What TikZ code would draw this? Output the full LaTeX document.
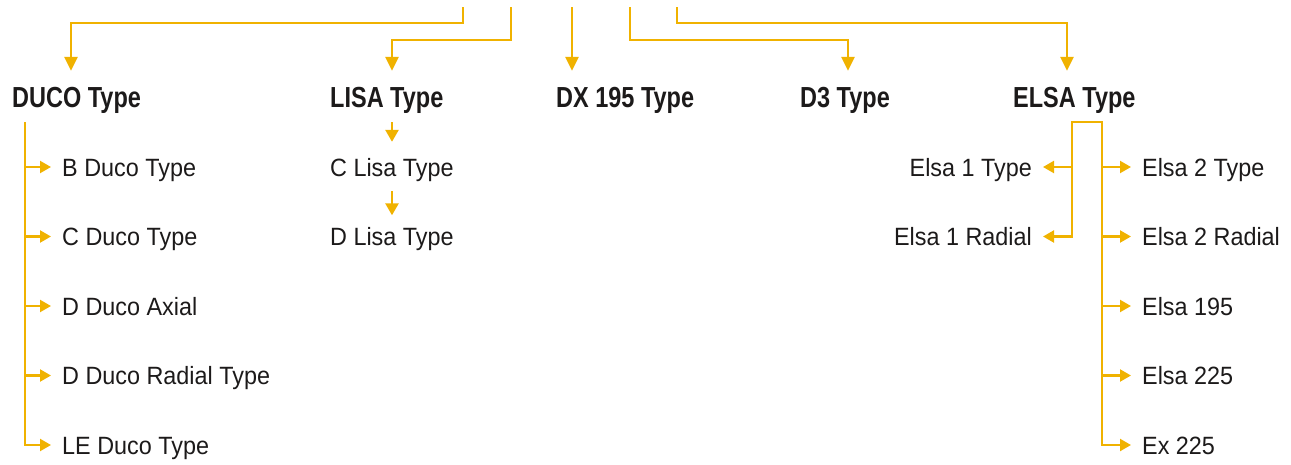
\documentclass[tikz,border=0pt]{standalone}
\usepackage{fontspec}
\setmainfont[FakeStretch=0.935]{Liberation Sans}
\newfontfamily\headfont[FakeStretch=0.81]{Liberation Sans}
\usetikzlibrary{arrows.meta,positioning}
\definecolor{gold}{RGB}{240,178,0}
\definecolor{ink}{RGB}{28,26,26}
\tikzset{
  gline/.style={draw=gold,line width=2.6pt},
  feed/.style={gline,-{Triangle[length=14pt,width=13pt]}},
  feedsmall/.style={gline,-{Triangle[length=12pt,width=13pt]}},
  side/.style={gline,line width=2.2pt,-{Triangle[length=11pt,width=12pt]}},
  head/.style={anchor=base west,inner xsep=0pt,inner ysep=14pt,text height=22pt,text depth=1pt,
    text=ink,font=\headfont\bfseries\fontsize{29}{30}\selectfont},
  item/.style={inner xsep=11pt,inner ysep=0pt,text height=18pt,text depth=0pt,
    text=ink,font=\fontsize{25}{26}\selectfont},
}
\begin{document}
\begin{tikzpicture}[x=1pt,y=-1pt]
  \useasboundingbox (0,0) rectangle (1291,464);
  % heads
  \node[head] (duco) at (12,107) {DUCO Type};
  \node[head] (lisa) at (330,107) {LISA Type};
  \node[head] (dx) at (556,107) {DX 195 Type};
  \node[head] (dthree) at (800,107) {D3 Type};
  \node[head] (elsa) at (1013,107) {ELSA Type};
  % feed lines from above
  \foreach \x [count=\i] in {463,511,572,630,677}
    \coordinate (s\i) at (\x,7);
  \draw[feed] (s1) -- ++(0,16) -| ([xshift=59pt]duco.north west);
  \draw[feed] (s2) -- ++(0,33) -| ([xshift=62pt]lisa.north west);
  \draw[feed] (s3) -- ([xshift=16pt]dx.north west);
  \draw[feed] (s4) -- ++(0,33) -| ([xshift=48pt]dthree.north west);
  \draw[feed] (s5) -- ++(0,16) -| ([xshift=54pt]elsa.north west);
  % duco
  \foreach \lab [count=\i] in {B Duco Type,C Duco Type,D Duco Axial,D Duco Radial Type,LE Duco Type}
    \node[item,anchor=west] (duco\i) at (51,97.5+69.5*\i) {\lab};
  \coordinate (ducospine) at ([xshift=13pt]duco.south west);
  \draw[side] (ducospine) |- (duco5.west);
  \foreach \i in {1,...,4}
    \draw[side] (ducospine |- duco\i.west) -- (duco\i.west);
  % lisa
  \node[item,anchor=west] (lisa1) at (319,167) {C Lisa Type};
  \node[item,anchor=west] (lisa2) at (319,236.5) {D Lisa Type};
  \draw[feedsmall,shorten >=16pt] ([xshift=62pt]lisa.south west) -- ([xshift=73pt]lisa1.north west);
  \draw[feedsmall,shorten <=15pt,shorten >=12pt] ([xshift=73pt]lisa1.south west) -- ([xshift=73pt]lisa2.north west);
  % elsa
  \node[item,anchor=east] (elsal1) at (1043,167) {Elsa 1 Type};
  \node[item,anchor=east] (elsal2) at (1043,236.5) {Elsa 1 Radial};
  \foreach \lab [count=\i] in {Elsa 2 Type,Elsa 2 Radial,Elsa 195,Elsa 225,Ex 225}
    \node[item,anchor=west] (elsar\i) at (1131,97.5+69.5*\i) {\lab};
  \coordinate (elsaL) at ([xshift=59pt]elsa.south west);
  \coordinate (elsaR) at ([xshift=89pt]elsa.south west);
  \draw[side,{Triangle[length=11pt,width=12pt]}-{Triangle[length=11pt,width=12pt]}]
    (elsal2.east) -| (elsaL) -- (elsaR) |- (elsar5.west);
  \draw[side] (elsaL |- elsal1.east) -- (elsal1.east);
  \foreach \i in {1,...,4}
    \draw[side] (elsaR |- elsar\i.west) -- (elsar\i.west);
\end{tikzpicture}
\end{document}
